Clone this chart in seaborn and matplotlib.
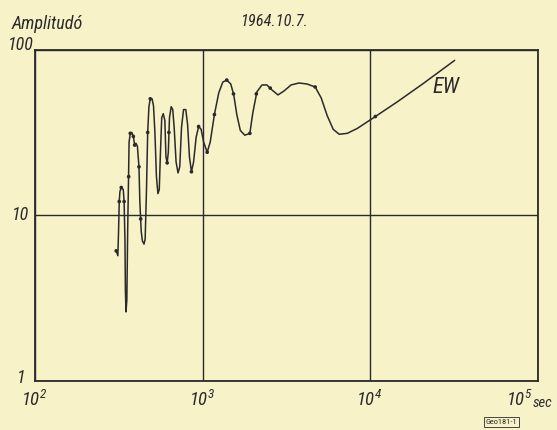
import numpy as np
import pandas as pd
import matplotlib
matplotlib.use('Agg')
import matplotlib.pyplot as plt
import matplotlib.transforms as mtransforms
from matplotlib import font_manager as fm
import seaborn as sns

# ---- data (period in s, amplitude) ----
period = [305, 312, 315, 318, 321, 327, 336, 340, 344, 346, 349, 353, 357, 361, 364,
          370, 378, 386, 393, 400, 408, 417, 422, 430, 437, 447, 454, 462, 470, 478,
          487, 499, 509, 519, 530, 541, 551, 560, 570, 582, 595, 604, 614, 624, 634,
          649, 663, 676, 694, 713, 730, 748, 769, 793, 813, 834, 857, 883, 914, 946,
          979, 1014, 1064, 1109, 1175, 1247, 1318, 1392, 1471, 1533, 1598, 1677, 1784,
          1912, 1992, 2106, 2257, 2417, 2590, 2813, 3055, 3365, 3758, 4197, 4688, 5090,
          5530, 6005, 6521, 7281, 8359, 10710, 14510, 20480, 31840]
amplitude = [6.1, 5.7, 8.0, 12.1, 13.9, 14.7, 14.3, 12.1, 7.0, 3.53, 2.61, 3.08, 8.0,
             15.9, 27.6, 31.2, 31.6, 29.9, 26.5, 27.2, 26.1, 19.6, 12.1, 8.0, 7.0, 6.7,
             7.2, 13.9, 31.6, 45.2, 50.4, 50.4, 45.8, 31.6, 17.1, 13.5, 14.3, 24.0, 38.8,
             41.0, 37.3, 22.5, 20.7, 24.0, 38.8, 45.2, 43.4, 33.9, 21.0, 18.0, 19.6, 33.9,
             43.4, 43.4, 35.3, 22.5, 18.3, 21.0, 29.5, 34.3, 33.0, 27.6, 24.0, 27.6, 40.5,
             54.7, 63.6, 65.4, 61.9, 53.2, 40.5, 32.5, 30.4, 31.2, 41.6, 55.5, 61.1, 61.1,
             57.0, 53.2, 56.2, 61.1, 62.8, 61.9, 59.4, 51.1, 39.9, 33.0, 30.8, 31.2, 33.4,
             39.4, 48.4, 61.9, 86.0]

# measured points (dots on the curve)
dot_period = [305, 318, 327, 340, 362, 370, 386, 393, 417, 427, 470, 487, 614, 629,
              857, 946, 1064, 1175, 1392, 1527, 1912, 2090, 2529, 4688, 10710]
dot_amp = [6.1, 12.1, 14.7, 12.1, 17.1, 31.2, 29.9, 26.5, 19.6, 9.5, 31.6, 50.4, 20.7,
           31.6, 18.3, 34.3, 24.0, 40.5, 65.4, 54.0, 31.2, 54.0, 58.5, 59.4, 39.4]

x_ticks = [1e2, 1e3, 1e4, 1e5]
x_tick_labels = [r'$10^{2}$', r'$10^{3}$', r'$10^{4}$', r'$10^{5}$']
x_unit = 'sec'
y_ticks = [1, 10, 100]
y_tick_labels = ['1', '10', '100']
title_text = '1964.10.7.'
ylabel_text = 'Amplitudó'
series_label = 'EW'
code_label = 'Geo181-1'


def pick_font(cands):
    for c in cands:
        try:
            fm.findfont(fm.FontProperties(family=c), fallback_to_default=False)
            return c
        except Exception:
            pass
    return 'DejaVu Sans'


# ---- style ----
sns.set_theme(style='white')
FAM = pick_font(['Liberation Sans Narrow', 'DejaVu Sans Condensed', 'Roboto Condensed',
                 'Roboto', 'Liberation Sans', 'DejaVu Sans'])
plt.rcParams['font.family'] = [FAM, 'DejaVu Sans']
plt.rcParams['font.style'] = 'italic'
plt.rcParams['mathtext.fontset'] = 'custom'
plt.rcParams['mathtext.rm'] = FAM + ':italic'
plt.rcParams['mathtext.it'] = FAM + ':italic'
plt.rcParams['mathtext.default'] = 'rm'

BG = '#f8f2c9'
INK = '#2a2a2a'
W, H = 557, 430

fig = plt.figure(figsize=(W / 100, H / 100), dpi=100, facecolor=BG)
ax = fig.add_axes([35 / W, 1 - 381 / H, 503 / W, 331.5 / H])
ax.set_facecolor(BG)
ax.set_xscale('log')
ax.set_yscale('log')

df = pd.DataFrame({'period': period, 'amplitude': amplitude})
sns.lineplot(data=df, x='period', y='amplitude', sort=False, estimator=None,
             color=INK, lw=1.1, ax=ax, zorder=3)
sns.scatterplot(x=dot_period, y=dot_amp, s=7, color=INK, edgecolor='none',
                ax=ax, zorder=4)

ax.set_xlim(x_ticks[0], x_ticks[-1])
ax.set_ylim(y_ticks[0], y_ticks[-1])
ax.set_xticks(x_ticks)
ax.set_yticks(y_ticks)
ax.set_xticklabels([])
ax.set_yticklabels([])
ax.minorticks_off()
ax.tick_params(length=0)
ax.grid(True, color=INK, lw=1.0)
ax.set_xlabel('')
ax.set_ylabel('')
for s in ax.spines.values():
    s.set_visible(True)
    s.set_color(INK)
    s.set_linewidth(1.3)


def off(dx_px, dy_px, base):
    return base + mtransforms.ScaledTranslation(dx_px / 100, dy_px / 100, fig.dpi_scale_trans)


xb = ax.get_xaxis_transform()
yb = ax.get_yaxis_transform()

TICK_FS = 13.5
for v, lab in zip(x_ticks[:-1], x_tick_labels[:-1]):
    ax.text(v, 0, lab, transform=off(-1, -19, xb), ha='center', va='center',
            fontsize=TICK_FS, color=INK, clip_on=False)
ax.text(x_ticks[-1], 0, x_tick_labels[-1], transform=off(-5, -19, xb),
        ha='right', va='center', fontsize=TICK_FS, color=INK, clip_on=False)
ax.text(x_ticks[-1], 0, x_unit, transform=off(-5, -22, xb),
        ha='left', va='center', fontsize=10.5, color=INK, clip_on=False)

y_dy = {1: 3, 10: 0, 100: 5}
for v, lab in zip(y_ticks, y_tick_labels):
    ax.text(0, v, lab, transform=off(-14, y_dy[v], yb), ha='center', va='center',
            fontsize=TICK_FS - 0.5, color=INK, clip_on=False)

fit = []
t = fig.text(12 / W, 1 - 29 / H, ylabel_text, ha='left', va='baseline', fontsize=13, color=INK)
fit.append((t, 71))
t = fig.text(240 / W, 1 - 26 / H, title_text, ha='left', va='baseline', fontsize=12.5, color=INK)
fit.append((t, 68))
t = fig.text(432 / W, 1 - 93 / H, series_label, ha='left', va='baseline', fontsize=15, color=INK)
fit.append((t, 27))
fig.text(501.5 / W, 1 - 422 / H, code_label, ha='center', va='center', fontsize=6,
         style='normal', color=INK,
         bbox=dict(boxstyle='square,pad=0.25', facecolor='none', edgecolor=INK, lw=0.6))

# scale these texts so their width matches the reference lettering
fig.canvas.draw()
r = fig.canvas.get_renderer()
for t, tw in fit:
    w = t.get_window_extent(renderer=r).width
    if w > 0:
        t.set_fontsize(t.get_fontsize() * tw / w)

fig.savefig('out.png', dpi=100, facecolor=BG)
